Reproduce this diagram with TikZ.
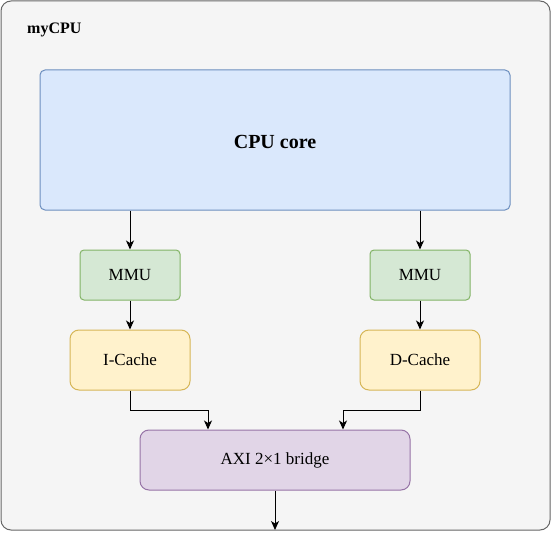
\documentclass[tikz,border=0pt]{standalone}
\usepackage{fontspec}
\setmainfont{Liberation Serif}
\usetikzlibrary{arrows.meta}
\definecolor{outerfill}{HTML}{F5F5F5}
\definecolor{outerdraw}{HTML}{666666}
\definecolor{bluefill}{HTML}{DAE8FC}
\definecolor{bluedraw}{HTML}{6C8EBF}
\definecolor{greenfill}{HTML}{D5E8D4}
\definecolor{greendraw}{HTML}{82B366}
\definecolor{yellowfill}{HTML}{FFF2CC}
\definecolor{yellowdraw}{HTML}{D6B656}
\definecolor{purplefill}{HTML}{E1D5E7}
\definecolor{purpledraw}{HTML}{9673A6}
\tikzset{
  box/.style={draw, line width=1pt, inner sep=0pt, font=\fontsize{17}{20}\selectfont},
  corebox/.style={box, fill=bluefill, draw=bluedraw, rounded corners=5pt, minimum width=470pt, minimum height=140pt},
  coretext/.style={inner sep=0pt, font=\fontsize{20}{24}\selectfont\bfseries},
  mmubox/.style={box, fill=greenfill, draw=greendraw, rounded corners=4pt, minimum width=100pt, minimum height=50pt},
  cachebox/.style={box, fill=yellowfill, draw=yellowdraw, rounded corners=9pt, minimum width=120pt, minimum height=60pt},
  bridgebox/.style={box, fill=purplefill, draw=purpledraw, rounded corners=9pt, minimum width=270pt, minimum height=60pt},
  conn/.style={draw=black, line width=1pt, -{Stealth[length=9pt,width=8pt,inset=2.5pt]}},
}
\begin{document}
\begin{tikzpicture}[x=1pt,y=-1pt]
\useasboundingbox (0,0) rectangle (551,540);
\draw[fill=outerfill, draw=outerdraw, line width=1pt, rounded corners=10pt] (1,1) rectangle (550,530);
\node[anchor=west, font=\fontsize{16}{19}\selectfont\bfseries, inner sep=0pt] (title) at (27,30) {myCPU};
\node[corebox] (core) at (275,140) {};
\node[coretext] (corelabel) at (275,142) {CPU core};
\node[mmubox] (mmuL) at (130,275) {MMU};
\node[mmubox] (mmuR) at (420,275) {MMU};
\node[cachebox] (icache) at (130,360) {I-Cache};
\node[cachebox] (dcache) at (420,360) {D-Cache};
\node[bridgebox] (bridge) at (275,460) {AXI 2\texttimes1 bridge};
\coordinate (out) at (275,530);
\draw[conn] (core.south -| mmuL.north) -- (mmuL.north);
\draw[conn] (core.south -| mmuR.north) -- (mmuR.north);
\draw[conn] (mmuL.south) -- (icache.north);
\draw[conn] (mmuR.south) -- (dcache.north);
\draw[conn] (icache.south) -- (130,410) -- (208,410) -- (bridge.north -| 208,0);
\draw[conn] (dcache.south) -- (420,410) -- (343,410) -- (bridge.north -| 343,0);
\draw[conn] (bridge.south) -- (out);
\end{tikzpicture}
\end{document}
